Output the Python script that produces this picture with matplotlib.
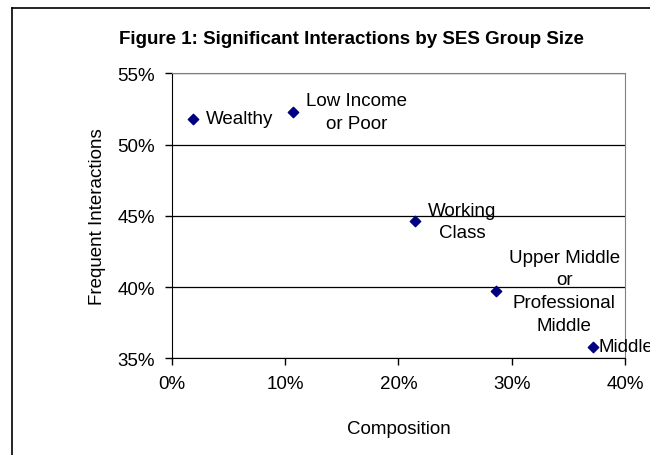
import matplotlib.pyplot as plt
from matplotlib.lines import Line2D
from matplotlib.ticker import FuncFormatter

plt.rcParams['font.family'] = ['Liberation Sans', 'DejaVu Sans']

# data
groups = ["Wealthy", "Low Income\nor Poor", "Working\nClass",
          "Upper Middle\nor\nProfessional\nMiddle", "Middle"]
composition = [1.9, 10.7, 21.5, 28.6, 37.2]          # percent
frequent = [51.8, 52.3, 44.6, 39.7, 35.8]            # percent
label_gap = [13, 13, 13, 13, 5]                      # pixels right of point

fig = plt.figure(figsize=(6.5, 4.56), dpi=100)
ax = fig.add_axes([0.2642, 0.2121, 0.6974, 0.625])

ax.scatter(composition, frequent, marker='D', s=28, color='#000080', zorder=3)
for x, y, lab, gap in zip(composition, frequent, groups, label_gap):
    ax.annotate(lab, (x, y), xytext=(gap, 0), textcoords='offset pixels',
                ha='left', va='center', multialignment='center',
                fontsize=13.5, linespacing=1.45, annotation_clip=False)

ax.set_xlim(0, 40)
ax.set_ylim(35, 55)
ax.set_xticks([0, 10, 20, 30, 40])
ax.set_yticks([35, 40, 45, 50, 55])
pct = FuncFormatter(lambda v, p: f"{v:.0f}%")
ax.xaxis.set_major_formatter(pct)
ax.yaxis.set_major_formatter(pct)
ax.tick_params(labelsize=13.5, length=5, width=1, direction='out', pad=7)
ax.yaxis.grid(True, color='#000000', lw=0.9)
ax.set_axisbelow(True)

for s in ['top', 'right']:
    ax.spines[s].set_color('#808080')
for s in ['left', 'bottom']:
    ax.spines[s].set_color('#000000')

ax.set_xlabel("Composition", fontsize=13.5, labelpad=20)
ax.set_ylabel("Frequent Interactions", fontsize=13.5, labelpad=8)

fig.text(0.541, 0.913, "Figure 1: Significant Interactions by SES Group Size",
         ha='center', va='center', fontsize=13.5, fontweight='bold')

# chart-area frame (cropped on the right and bottom)
fig.add_artist(Line2D([12 / 650, 12 / 650], [0, 1 - 9 / 456], color='black', lw=1.2))
fig.add_artist(Line2D([12 / 650, 1], [1 - 9 / 456, 1 - 9 / 456], color='black', lw=1.2))

fig.savefig("out.png", dpi=100)
